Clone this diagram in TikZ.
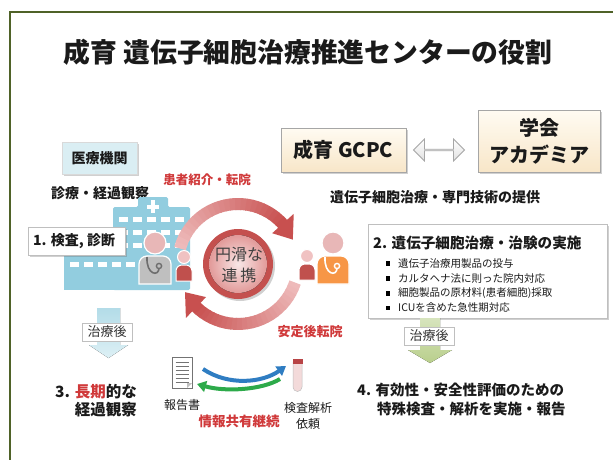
\documentclass[tikz,border=0pt]{standalone}
\usepackage{fontspec}
\setmainfont{Noto Sans CJK JP}
\usetikzlibrary{calc,shadows,arrows.meta,shapes.arrows}

\definecolor{frameGreen}{HTML}{4F6228}
\definecolor{txtDark}{HTML}{1A1A1A}
\definecolor{txtRed}{HTML}{D0393A}
\definecolor{boxGray}{HTML}{A6A6A6}
\definecolor{creamTop}{HTML}{FFFBF2}
\definecolor{creamBot}{HTML}{F8E6C8}
\definecolor{paleBlue}{HTML}{DAEEF3}
\definecolor{hospBlue}{HTML}{92CDDF}
\definecolor{arcPale}{HTML}{F2C6C6}
\definecolor{arcDark}{HTML}{C8504F}
\definecolor{ringRed}{HTML}{C4504E}
\definecolor{ringIn}{HTML}{F8E6E6}
\definecolor{ringOut}{HTML}{E29A99}
\definecolor{docGray}{HTML}{BFBFBF}
\definecolor{headPink}{HTML}{E8B7B7}
\definecolor{patHead}{HTML}{F0C2C2}
\definecolor{patBody}{HTML}{C0504D}
\definecolor{docOrange}{HTML}{F79646}
\definecolor{stethGray}{HTML}{6E6E6E}
\definecolor{arrBlueTop}{HTML}{B3DCE8}
\definecolor{arrBlueBot}{HTML}{DDF0F5}
\definecolor{arrGreenTop}{HTML}{D7E4BD}
\definecolor{arrGreenBot}{HTML}{B9CF8C}
\definecolor{flowBlue}{HTML}{2F7DC2}
\definecolor{flowGreen}{HTML}{2DAA4A}
\definecolor{tubePink}{HTML}{F3DADA}
\definecolor{tubeCap}{HTML}{B84446}

\newcommand\fsz[1]{\fontsize{#1}{#1}\selectfont}
\newcommand\fszl[2]{\fontsize{#1}{#2}\selectfont}

\tikzset{
  shadowed/.style={drop shadow={shadow xshift=2pt,shadow yshift=-2pt,opacity=0.3,fill=black!60}},
  creambox/.style={draw=boxGray,line width=0.8,top color=creamTop,bottom color=creamBot,
    shadowed,inner sep=0,text=txtDark,font=\bfseries\fsz{20},align=center},
  whitebox/.style={draw=black!25,line width=0.6,fill=white,shadowed,inner sep=0},
  lbl/.style={draw=black!25,line width=0.6,fill=white,inner sep=0,minimum width=50,
    minimum height=18,font=\fsz{13},text=black!80},
  bodytxt/.style={text=txtDark,font=\bfseries\fsz{14},inner sep=0},
  redtxt/.style={text=txtRed,font=\bfseries\fsz{13},inner sep=0},
  smalltxt/.style={text=txtDark,font=\fsz{12},inner sep=0,align=center},
  bullet/.style={fill=black,inner sep=0,minimum size=4.5},
  bultxt/.style={text=txtDark,font=\fsz{10.5},inner sep=0,anchor=west},
  hosp/.style={fill=hospBlue},
  win/.style={fill=white},
  pics/doctor/.style n args={3}{code={
    \fill[#2,draw=white,line width=1.2] (0,0) circle (11);
    \fill[#1,draw=white,line width=1.2] (-16,41) -- (-16,21)
      arc[start angle=180,end angle=270,radius=8] -- (8,13)
      arc[start angle=270,end angle=360,radius=8] -- (16,41) -- cycle;
    \draw[#3,line width=1.6] (-8,14) .. controls (-9,32) and (4,34) .. (4,25);
    \draw[#3,line width=1.4,fill=#1] (4,23) circle (2.6);
  }},
  pics/patient/.style n args={2}{code={
    \fill[#2,draw=white,line width=1] (0,0) circle (6.5);
    \fill[#1,draw=white,line width=1] (-8,24) -- (-8,14)
      arc[start angle=180,end angle=270,radius=6] -- (2,8)
      arc[start angle=270,end angle=360,radius=6] -- (8,24) -- cycle;
  }},
}

\begin{document}
\begin{tikzpicture}[x=1pt,y=-1pt]
\useasboundingbox (0,0) rectangle (613,459);
\clip (0,0) rectangle (613,459);
\fill[white] (0,0) rectangle (613,459);

% outer frame (runs past the right and bottom edges)
\draw[frameGreen,line width=2] (10,12) rectangle (650,490);

% title
\node[text=txtDark,font=\bfseries\fsz{26.8},inner sep=0] (title) at (308,52)
  {成育 遺伝子細胞治療推進センターの役割};

% partner boxes
\node[creambox,minimum width=125,minimum height=44] (gcpc) at (343.5,150) {成育 GCPC};
\node[creambox,minimum width=122,minimum height=62,font=\bfseries\fszl{20}{27}]
  (academia) at (539,141) {学会\\アカデミア};
\node[double arrow,draw=boxGray,line width=0.8,top color=white,bottom color=black!12,
  minimum height=51,minimum width=22,double arrow head extend=6,inner sep=0]
  (link) at (439,150) {};

\node[bodytxt] (provide) at (435,197) {遺伝子細胞治療・専門技術の提供};

% item 2 box
\node[whitebox,minimum width=239,minimum height=94] (box2) at (487.5,271) {};
\node[text=txtDark,font=\bfseries\fsz{14.6},inner sep=0,anchor=west] (box2title)
  at (373,243) {2. 遺伝子細胞治療・治験の実施};
\node[bullet] (b1) at (388,263.5) {};
\node[bultxt] (t1) at (398,263.5) {遺伝子治療用製品の投与};
\node[bullet] (b2) at (388,278.5) {};
\node[bultxt] (t2) at (398,278.5) {カルタヘナ法に則った院内対応};
\node[bullet] (b3) at (388,293.5) {};
\node[bultxt] (t3) at (398,293.5) {細胞製品の原材料(患者細胞)採取};
\node[bullet] (b4) at (388,308) {};
\node[bultxt] (t4) at (398,308) {ICUを含めた急性期対応};

% green step arrow below item 2
\fill[top color=arrGreenTop,bottom color=arrGreenBot]
  (420,318) -- (440,318) -- (440,350) -- (452,350) -- (430,363) -- (408,350) -- (420,350) -- cycle;
\node[lbl] (afterR) at (429,336) {治療後};

\node[text=txtDark,font=\bfseries\fsz{14.5},inner sep=0,anchor=west] (item4a) at (357,390)
  {4. 有効性・安全性評価のための};
\node[text=txtDark,font=\bfseries\fsz{14.5},inner sep=0,anchor=west] (item4b) at (377,409)
  {特殊検査・解析を実施・報告};

% medical institution side
\node[draw=black!15,line width=0.6,fill=paleBlue,shadowed,minimum width=75,minimum height=32,
  inner sep=0,text=txtDark,font=\bfseries\fsz{14}] (inst) at (99.5,158) {医療機関};
\node[bodytxt] (followup) at (100,193) {診療・経過観察};

% hospital building
\fill[hosp,rounded corners=1.5] (113,290) -- (113,207) -- (138,207) -- (138,197)
  -- (168,197) -- (168,207) -- (190,207) -- (190,290) -- cycle;
\fill[hosp] (64,232) rectangle (114,290);
\fill[white] (151,200) rectangle (155,213);
\fill[white] (147,204.5) rectangle (159,208.5);
\foreach \yy in {217,230,243}{
  \foreach \xx in {119,133,147,161,175}{
    \fill[win] (\xx,\yy) rectangle ++(9,5);
  }
}
\foreach \xx in {70,84,98,112,126}{
  \fill[win] (\xx,262) rectangle ++(9,5);
}

\node[whitebox,minimum width=97,minimum height=28] (diag) at (76.5,241) {};
\node[bodytxt,anchor=west] (diagtxt) at (33,241) {1. 検査, 診断};

% circulation ring around the centre
\coordinate (ctr) at (238,264);
\foreach \i in {0,...,23}{
  \pgfmathsetmacro\aa{195+\i*(319-195)/24}
  \pgfmathsetmacro\bb{\aa+(319-195)/24+0.7}
  \pgfmathtruncatemacro\pp{10+90*\i/23}
  \draw[line width=12,draw=arcDark!\pp!arcPale] ($(ctr)+(\aa:60)$) arc[start angle=\aa,end angle=\bb,radius=60];
}
\fill[arcDark] ($(ctr)+(318:46)$) -- ($(ctr)+(318:75)$) -- ($(ctr)+(336:60)$) -- cycle;
\foreach \i in {0,...,23}{
  \pgfmathsetmacro\aa{18+\i*(135-18)/24}
  \pgfmathsetmacro\bb{\aa+(135-18)/24+0.7}
  \pgfmathtruncatemacro\pp{10+90*\i/23}
  \draw[line width=12,draw=arcDark!\pp!arcPale] ($(ctr)+(\aa:60)$) arc[start angle=\aa,end angle=\bb,radius=60];
}
\fill[arcDark] ($(ctr)+(134:46)$) -- ($(ctr)+(134:75)$) -- ($(ctr)+(152:60)$) -- cycle;

\node[redtxt,font=\bfseries\fsz{12.5}] (referral) at (207,180) {患者紹介・転院};
\node[redtxt] (backtransfer) at (310,332) {安定後転院};

% people
\pic at (155,243) {doctor={docGray}{headPink}{stethGray}};
\pic at (184,257) {patient={patBody}{patHead}};
\pic at (307,256) {patient={patBody}{patHead}};
\pic at (333,243) {doctor={docOrange}{headPink}{white}};

% central circle
\node[circle,fill=ringRed,minimum size=70,inner sep=0,shadowed] (renkei) at (ctr) {};
\fill[inner color=ringIn,outer color=ringOut] (ctr) circle (29);
\node[text=black!75,font=\fszl{16}{21},align=center,inner sep=0] (renkeitxt) at (239,265)
  {円滑な\\連\hspace{3pt}携};

% left step arrow
\fill[top color=arrBlueTop,bottom color=arrBlueBot]
  (97,308) -- (120,308) -- (120,345) -- (128,345) -- (108.5,358) -- (89,345) -- (97,345) -- cycle;
\node[lbl] (afterL) at (107,332) {治療後};

\node[text=txtDark,font=\bfseries\fsz{15.5},inner sep=0,anchor=east] (item3a) at (137,392)
  {3. \textcolor{txtRed}{長期}的な};
\node[text=txtDark,font=\bfseries\fsz{15.5},inner sep=0,anchor=east] (item3b) at (137,410)
  {経過観察};

% report sheet
\node[draw=black!55,fill=white,line width=0.7,minimum width=20,minimum height=31,inner sep=0]
  (report) at (182,372.5) {};
\foreach \yy in {362,366,370,374,378,382}{
  \draw[black!55,line width=1] (175.5,\yy) -- (188.5,\yy);
}
\fill[black!25] (192,383) -- (187,388) -- (187,383) -- cycle;
\node[smalltxt] (reporttxt) at (182,405) {報告書};

% sample tube
\node[inner sep=0,minimum width=10,minimum height=33] (tube) at (297.5,376) {};
\filldraw[fill=tubePink,draw=black!25,line width=0.5] (293,362) -- (293,387)
  arc[start angle=180,end angle=0,radius=4.5] -- (302,362) -- cycle;
\fill[tubeCap] (292.5,359) rectangle (302.5,363.5);
\node[smalltxt,align=center,font=\fszl{12}{16}] (testreq) at (308,416) {検査解析\\依頼};

% information exchange arrows
\coordinate (blueA) at (203,369);
\coordinate (blueB) at (286,366);
\coordinate (greenA) at (280,379);
\coordinate (greenB) at (197,384);
\draw[flowBlue,line width=4,-{Triangle[length=9pt,width=11pt]}]
  (blueA) .. controls (228,386) and (262,383) .. (blueB);
\draw[flowGreen,line width=4,-{Triangle[length=9pt,width=11pt]}]
  (greenA) .. controls (262,390) and (225,392) .. (greenB);
\node[redtxt,font=\bfseries\fsz{13.5}] (sharing) at (239,421) {情報共有継続};

\end{tikzpicture}
\end{document}
